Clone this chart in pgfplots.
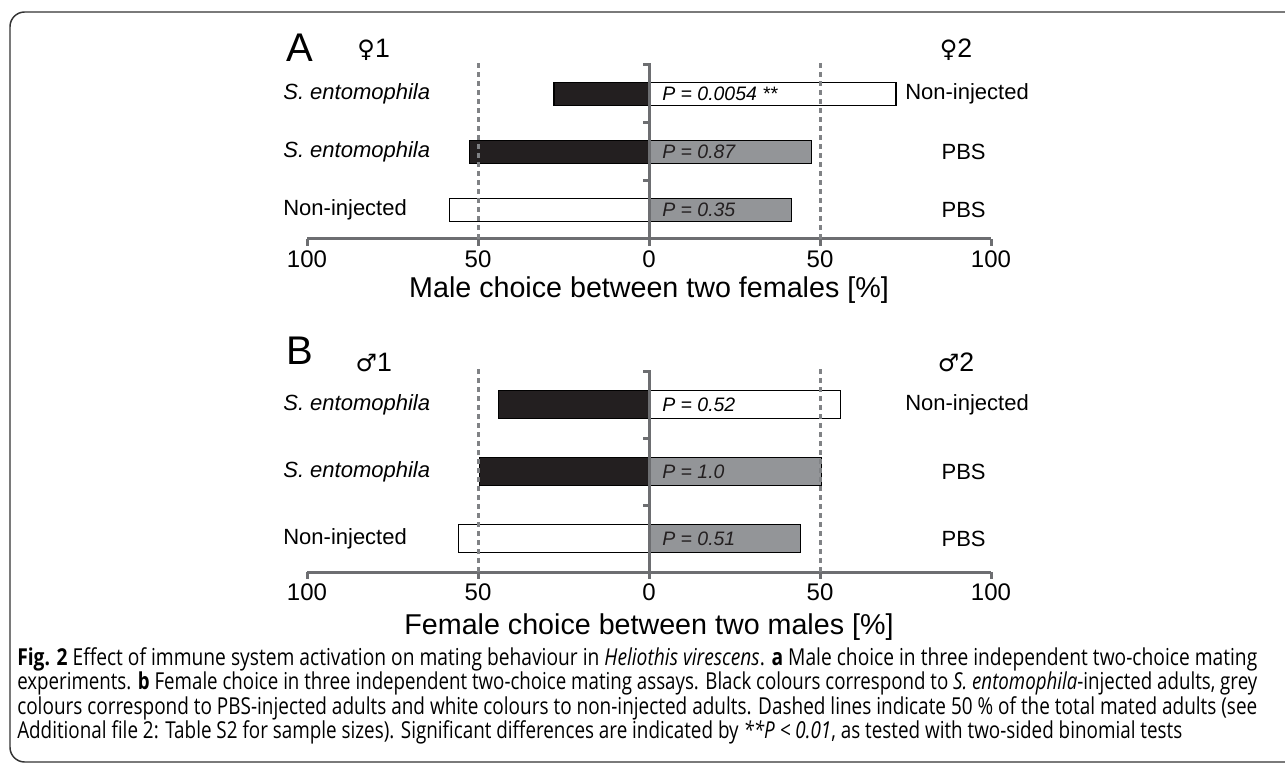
\documentclass[border=0pt]{standalone}
\usepackage{pgfplots}
\pgfplotsset{compat=1.18}
\usepackage{fontspec}
\usepackage{graphicx}
\setmainfont{Liberation Sans}
\newfontfamily\symfont{DejaVu Sans}
\newfontfamily\capfont{Open Sans}

\definecolor{barblack}{HTML}{231F20}
\definecolor{bargrey}{HTML}{939598}
\definecolor{axgrey}{HTML}{6D6E71}
\definecolor{dotgrey}{HTML}{808285}
\definecolor{framec}{HTML}{333333}

% 1 px of the reference = 0.75pt
\newcommand{\rowfont}{\fontsize{16.5}{18}\selectfont}
\newcommand{\pfont}{\fontsize{14.6}{16}\selectfont\itshape}
\newcommand{\sym}[1]{{\symfont\fontsize{18}{18}\selectfont #1}}
\newcommand{\capline}[2]{\resizebox{#1}{\height}{\capfont\fontsize{17.5}{18}\selectfont #2}}

\pgfplotsset{
  panel/.style={
    scale only axis, width=513pt,
    xmin=-100, xmax=100, ymin=0.5, ymax=3.5,
    xbar, bar shift=0pt, bar width=0.41,
    axis x line*=bottom, axis y line=none,
    x axis line style={axgrey, line width=2.25pt, -},
    xtick={-100,-50,0,50,100}, xticklabels={100,50,0,50,100},
    xtick style={axgrey, line width=2.25pt},
    tick align=outside, major tick length=5pt,
    ytick=\empty,
    xticklabel style={font=\fontsize{18}{18}\selectfont, text=black},
    xlabel style={font=\fontsize{21.5}{22}\selectfont},
    clip=false,
    every axis plot/.append style={draw=black, line width=0.9pt},
  },
  guides/.style={
    execute at end axis={
      \draw[dotgrey, line width=2.25pt, dash pattern=on 3.75pt off 3pt] (axis cs:-50,0.5) -- (axis cs:-50,3.55);
      \draw[dotgrey, line width=2.25pt, dash pattern=on 3.75pt off 3pt] (axis cs:50,0.5) -- (axis cs:50,3.55);
      \draw[axgrey, line width=2.25pt] (axis cs:0,0.5) -- (axis cs:0,3.5) -- (axis cs:-1.9,3.5);
      \draw[axgrey, line width=2.25pt] (axis cs:0,2.5) -- (axis cs:-1.9,2.5);
      \draw[axgrey, line width=2.25pt] (axis cs:0,1.5) -- (axis cs:-1.9,1.5);
    },
  },
}

\begin{document}
\begin{tikzpicture}
\useasboundingbox (0,0) rectangle (963.75pt,-574.5pt);
\draw[framec, line width=1.1pt, rounded corners=11pt] (7.5pt,-9pt) rectangle (975pt,-571.5pt);

% ---------- panel A ----------
\begin{axis}[panel, guides, at={(230.25pt,-179.25pt)}, anchor=south west, height=130.5pt,
  xlabel={Male choice between two females [\%]}]
\addplot[fill=white] coordinates {(72.2,3) (-58.3,1)};
\addplot[fill=bargrey] coordinates {(47.6,2) (41.7,1)};
\addplot[fill=barblack] coordinates {(-27.8,3) (-52.4,2)};

\node[anchor=west, inner sep=0, font=\rowfont] at (axis cs:-107,3) {\textit{S. entomophila}};
\node[anchor=west, inner sep=0, font=\rowfont] at (axis cs:-107,2) {\textit{S. entomophila}};
\node[anchor=west, inner sep=0, font=\rowfont] at (axis cs:-107,1) {Non-injected};
\node[font=\rowfont] at (axis cs:93,3) {Non-injected};
\node[font=\rowfont] at (axis cs:92,2) {PBS};
\node[font=\rowfont] at (axis cs:92,1) {PBS};
\node[anchor=west, inner sep=0, font=\pfont] at (axis cs:3.8,3) {P = 0.0054 **};
\node[anchor=west, inner sep=0, font=\pfont, text=barblack] at (axis cs:3.8,2) {P = 0.87};
\node[anchor=west, inner sep=0, font=\pfont, text=barblack] at (axis cs:3.8,1) {P = 0.35};
\node[font=\fontsize{30}{30}\selectfont] at (axis cs:-102,3.79) {A};
\node[font=\fontsize{20}{20}\selectfont] at (axis cs:-80.5,3.77) {\sym{♀}1};
\node[font=\fontsize{20}{20}\selectfont] at (axis cs:89.8,3.77) {\sym{♀}2};
\end{axis}

% ---------- panel B ----------
\begin{axis}[panel, guides, at={(230.25pt,-429pt)}, anchor=south west, height=150.75pt,
  xlabel={Female choice between two males [\%]}, xlabel style={yshift=-3pt}]
\addplot[fill=white] coordinates {(55.9,3) (-55.8,1)};
\addplot[fill=bargrey] coordinates {(50.5,2) (44.2,1)};
\addplot[fill=barblack] coordinates {(-44.1,3) (-49.5,2)};

\node[anchor=west, inner sep=0, font=\rowfont] at (axis cs:-107,3) {\textit{S. entomophila}};
\node[anchor=west, inner sep=0, font=\rowfont] at (axis cs:-107,2) {\textit{S. entomophila}};
\node[anchor=west, inner sep=0, font=\rowfont] at (axis cs:-107,1) {Non-injected};
\node[font=\rowfont] at (axis cs:93,3) {Non-injected};
\node[font=\rowfont] at (axis cs:92,2) {PBS};
\node[font=\rowfont] at (axis cs:92,1) {PBS};
\node[anchor=west, inner sep=0, font=\pfont] at (axis cs:3.8,3) {P = 0.52};
\node[anchor=west, inner sep=0, font=\pfont, text=barblack] at (axis cs:3.8,2) {P = 1.0};
\node[anchor=west, inner sep=0, font=\pfont, text=barblack] at (axis cs:3.8,1) {P = 0.51};
\node[font=\fontsize{30}{30}\selectfont] at (axis cs:-102,3.80) {B};
\node[font=\fontsize{20}{20}\selectfont] at (axis cs:-80.5,3.63) {\sym{♂}1};
\node[font=\fontsize{20}{20}\selectfont] at (axis cs:89.8,3.63) {\sym{♂}2};
\end{axis}

% ---------- caption ----------
\node[anchor=base west, inner sep=0] at (12.75pt,-498.75pt) {\capline{930pt}{\textbf{Fig. 2} Effect of immune system activation on mating behaviour in \textit{Heliothis virescens}. \textbf{a} Male choice in three independent two-choice mating}};
\node[anchor=base west, inner sep=0] at (12.75pt,-517.1pt) {\capline{930pt}{experiments. \textbf{b} Female choice in three independent two-choice mating assays. Black colours correspond to \textit{S. entomophila}-injected adults, grey}};
\node[anchor=base west, inner sep=0] at (12.75pt,-535.5pt) {\capline{930pt}{colours correspond to PBS-injected adults and white colours to non-injected adults. Dashed lines indicate 50 \% of the total mated adults (see}};
\node[anchor=base west, inner sep=0] at (12.75pt,-553.9pt) {\capline{873.75pt}{Additional file 2: Table S2 for sample sizes). Significant differences are indicated by \textit{**P < 0.01}, as tested with two-sided binomial tests}};
\end{tikzpicture}
\end{document}
